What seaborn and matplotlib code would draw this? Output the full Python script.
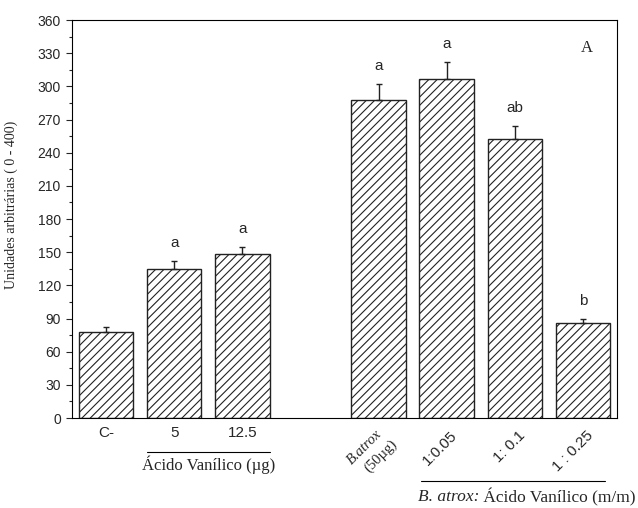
import numpy as np
import pandas as pd
import matplotlib
matplotlib.use("Agg")
import matplotlib.pyplot as plt
import matplotlib.transforms as mtransforms
from matplotlib.ticker import MultipleLocator
import seaborn as sns

# dados
grupos = ["C-", "5", "12.5", "B.atrox (50µg)", "1:0.05", "1: 0.1", "1 : 0.25"]
valores = [78, 135, 148, 288, 307, 252, 86]
erros = [4, 7, 7, 14, 15, 12, 4]
letras = ["", "a", "a", "a", "a", "ab", "b"]

# ordem com um espaço vazio entre os dois grupos
ordem = ["C-", "5", "12.5", " ", "B.atrox (50µg)", "1:0.05", "1: 0.1", "1 : 0.25"]

df = pd.DataFrame({"grupo": grupos, "valor": valores})

sns.set_style("ticks")
plt.rcParams["font.family"] = ["Liberation Sans", "DejaVu Sans"]
plt.rcParams["hatch.linewidth"] = 0.8

fig = plt.figure(figsize=(6.38, 5.08), dpi=100)
ax = fig.add_axes([0.1129, 0.177, 0.8541, 0.7836])

sns.barplot(data=df, x="grupo", y="valor", order=ordem, color="white",
            saturation=1, edgecolor="#222222", linewidth=1.0, hatch="////",
            width=0.8, errorbar=None, ax=ax)

pos = [ordem.index(g) for g in grupos]
ax.errorbar(pos, valores, yerr=[np.zeros(len(erros)), erros], fmt="none",
            ecolor="#222222", elinewidth=1.0, capsize=2.5, capthick=1.0)

for p, v, e, l in zip(pos, valores, erros, letras):
    if l:
        ax.text(p, v + e + 16, l, ha="center", va="center", fontsize=11)

ax.set_xlim(-0.5, 7.5)
ax.set_ylim(0, 360)
ax.yaxis.set_major_locator(MultipleLocator(30))
ax.yaxis.set_minor_locator(MultipleLocator(15))
ax.tick_params(axis="y", which="major", length=4.5, width=0.8, labelsize=10)
ax.tick_params(axis="y", which="minor", length=2.2, width=0.8)
ax.tick_params(axis="x", length=0, pad=6, labelsize=11)
for s in ax.spines.values():
    s.set_linewidth(0.8)
    s.set_color("black")

ax.set_xlabel("")
ax.set_ylabel("Unidades arbitrárias ( 0 - 400)", family="Liberation Serif",
              fontsize=10)
ax.yaxis.set_label_coords(-0.1, 0.535)

# rótulos do eixo x
ax.set_xticks(range(len(ordem)))
rotulos = ["C-", "5", "12.5", "", "", "1:0.05", "1: 0.1", "1 : 0.25"]
ax.set_xticklabels(rotulos)
for i, t in enumerate(ax.get_xticklabels()):
    if i >= 5:
        t.set_rotation(45)
        t.set_ha("right")
        t.set_va("center")
        t.set_rotation_mode("anchor")
        t.set_transform(t.get_transform() + mtransforms.ScaledTranslation(
            6 / 72, -5 / 72, fig.dpi_scale_trans))

trans = ax.get_xaxis_transform()
ib = ordem.index("B.atrox (50µg)")
off1 = mtransforms.ScaledTranslation(1 / 72, -10 / 72, fig.dpi_scale_trans)
off2 = mtransforms.ScaledTranslation(12 / 72, -17 / 72, fig.dpi_scale_trans)
ax.text(ib, 0, "B.atrox", transform=trans + off1, rotation=45,
        rotation_mode="anchor", ha="right", va="center",
        family="Liberation Serif", style="italic", fontsize=10.5)
ax.text(ib, 0, "(50µg)", transform=trans + off2, rotation=45,
        rotation_mode="anchor", ha="right", va="center",
        family="Liberation Serif", fontsize=10.5)

# rótulos dos grupos
ax.plot([1 - 0.4, 2 + 0.4], [-0.085, -0.085], transform=trans,
        color="black", lw=0.8, clip_on=False)
ax.text(1.5, -0.118, "Ácido Vanílico (µg)", transform=trans, ha="center",
        va="center", family="Liberation Serif", fontsize=12)

ax.plot([5 - 0.37, 7 + 0.32], [-0.1575, -0.1575], transform=trans,
        color="black", lw=0.8, clip_on=False)
t1 = ax.text(0.634, -0.198, "B. atrox:", transform=ax.transAxes, ha="left",
             va="center", family="Liberation Serif", style="italic",
             fontsize=12.5)
ax.annotate(" Ácido Vanílico (m/m)", xycoords=t1, xy=(1, 0.5), ha="left",
            va="center", family="Liberation Serif", fontsize=12.5,
            annotation_clip=False)

ax.text(0.955, 0.93, "A", transform=ax.transAxes, ha="right", va="center",
        family="Liberation Serif", fontsize=12)

fig.savefig("out.png", dpi=100)
